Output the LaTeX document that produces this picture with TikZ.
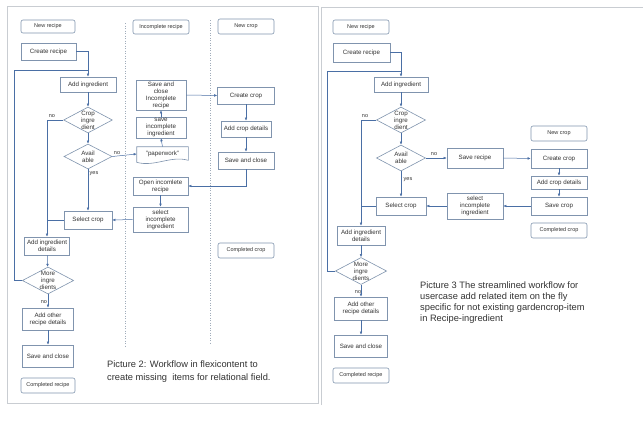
\documentclass[tikz,border=0pt]{standalone}
\usepackage{fontspec}
\setmainfont{Liberation Sans}
\usetikzlibrary{shapes.geometric,arrows.meta,calc}

\definecolor{boxline}{HTML}{8094AE}
\definecolor{flow}{HTML}{4A6FA5}
\definecolor{ink}{HTML}{333333}
\definecolor{frame}{HTML}{C9CDD2}
\definecolor{lane}{HTML}{A0ACBA}

\tikzset{
  box/.style={draw=boxline, fill=white, text=ink, align=center, inner sep=0pt, line width=0.6pt, font=\fontsize{6.2}{7}\selectfont},
  rbox/.style={box, rounded corners=2pt, font=\fontsize{5.5}{6.5}\selectfont},
  dec/.style={box, diamond, aspect=1.9},
  wh/.style 2 args={minimum width=#1, minimum height=#2},
  lin/.style={draw=flow, line width=0.5pt},
  arr/.style={lin, -{Latex[length=3pt,width=2.6pt]}},
  lbl/.style={text=ink, inner sep=0pt, font=\fontsize{5.5}{6.5}\selectfont},
  captext/.style={text=ink, inner sep=0pt, align=left, anchor=north west},
}

\begin{document}
\begin{tikzpicture}[x=1pt,y=-1pt]

\useasboundingbox (0,0) rectangle (643,421);
\fill[white] (0,0) rectangle (643,421);

% frames of the two pictures
\draw[frame, line width=0.8pt] (7,6) rectangle (318,403);
\draw[frame, line width=0.8pt] (321,405) -- (321,7) -- (643,7);

% swimlane separators
\foreach \x/\ya/\yb in {125/23/347, 210/20/343}
  \draw[lane, dotted, line width=0.5pt] (\x,\ya) -- (\x,\yb);

%%% Picture 2

% lane: new recipe
\node[rbox, wh={54}{13}] (newrecL) at (48,26.5) {New recipe};
\node[box, wh={55}{17}] (createL) at (48.5,51.5) {Create recipe};
\node[box, wh={56}{15}] (addL) at (88,84.5) {Add ingredient};
\node[dec, wh={48}{26}] (cropL) at (88,120) {Crop\\ingre\\dient};
\node[dec, wh={48}{25}] (availL) at (88,156.5) {Avail\\able};
\node[box, wh={48}{18}] (selectL) at (88,220) {Select crop};
\node[box, wh={45}{18}] (adddetL) at (47,246) {Add ingredient\\details};
\node[dec, wh={51}{25}] (moreL) at (48,280.5) {More\\ingre\\dients};
\node[box, wh={51}{22}] (otherL) at (48,319) {Add other\\recipe details};
\node[box, wh={51}{22}] (saveL) at (48,356) {Save and close};
\node[rbox, wh={54}{15}] (complL) at (48,385.5) {Completed recipe};

% lane: incomplete recipe
\node[rbox, wh={56}{14}] (increc) at (161,27) {Incomplete recipe};
\node[box, wh={50}{30}] (saveinc) at (161,95) {Save and\\close\\Incomplete\\recipe};
\node[box, wh={50}{21}] (saveing) at (161,127.5) {save\\incomplete\\ingredient};
\node[box, draw=none, fill=none, wh={51}{14}] (paper) at (162.5,154) {"paperwork"};
\draw[boxline, line width=0.6pt] (paper.north west) -- (paper.north east)
  -- ($(paper.south east)+(0,-1)$)
  .. controls ($(paper.south)+(8,-6)$) and ($(paper.south)+(-8,6)$) .. ($(paper.south west)+(0,1)$)
  -- cycle;
\node[box, wh={55}{18}] (openinc) at (160.5,186) {Open incomlete\\recipe};
\node[box, wh={55}{25}] (selinc) at (160.5,219.5) {select\\incomplete\\ingredient};

% lane: new crop
\node[rbox, wh={56}{15}] (newcrop) at (246,26.5) {New crop};
\node[box, wh={57}{17}] (createcrop) at (246,95.5) {Create crop};
\node[box, wh={50}{16}] (addcrop) at (246,129) {Add crop details};
\node[box, wh={56}{17}] (savecrop) at (246,160.5) {Save and close};
\node[rbox, wh={56}{15}] (complcrop) at (246,250.5) {Completed crop};

% labels
\node[lbl] (noL1) at (52,116) {no};
\node[lbl] (noL2) at (117,153) {no};
\node[lbl] (yesL) at (94,174) {yes};
\node[lbl] (noL3) at (44,302) {no};

% connectors
\coordinate (loopL) at (14,70);
\draw[arr] (createL.east) -| (addL.north);
\draw[lin] (moreL.west) -| (loopL) -- (loopL -| addL.north);
\draw[arr] (addL) -- (cropL);
\draw[arr] (cropL) -- (availL);
\draw[arr] (cropL.west) -| (adddetL.north);
\draw[lin] (selectL.west) -- (selectL.west -| adddetL.north);
\draw[arr] (availL.east) -- (paper.west);
\draw[arr] (availL) -- (selectL);
\draw[arr] (selinc.west) -- (selectL.east);
\draw[arr] (adddetL) -- (moreL);
\draw[arr] (moreL) -- (otherL);
\draw[arr] (otherL) -- (saveL);
\draw[arr] (paper.north) -- (saveing.south);
\draw[arr] (saveing) -- (saveinc);
\draw[arr] (saveinc.east) -- (createcrop.west);
\draw[arr] (createcrop) -- (addcrop);
\draw[arr] (addcrop) -- (savecrop);
\draw[arr] (savecrop.south) |- (openinc.east);
\draw[arr] (openinc) -- (selinc);

\node[captext, font=\fontsize{9.3}{12.5}\selectfont] (capL) at (107,361)
  {Picture 2: Workflow in flexicontent to\\create missing\ \ items for relational field.};

%%% Picture 3

\node[rbox, wh={56}{14}] (newrecR) at (361,27) {New recipe};
\node[box, wh={57}{19}] (createR) at (361.5,52.5) {Create recipe};
\node[box, wh={54}{15}] (addR) at (401,84.5) {Add ingredient};
\node[dec, wh={49}{26}] (cropR) at (401,120) {Crop\\ingre\\dient};
\node[dec, wh={49}{26}] (availR) at (401,158) {Avail\\able};
\node[box, wh={56}{20}] (saverec) at (475,158) {Save recipe};
\node[box, wh={50}{18}] (selectR) at (401,206) {Select crop};
\node[box, wh={56}{26}] (selincR) at (475,206) {select\\incomplete\\ingredient};
\node[box, wh={48}{19}] (adddetR) at (361,235.5) {Add ingredient\\details};
\node[dec, wh={51}{22}] (moreR) at (361,271) {More\\ingre\\dients};
\node[box, wh={53}{23}] (otherR) at (361,308.5) {Add other\\recipe details};
\node[box, wh={53}{22}] (saveR) at (361,346) {Save and close};
\node[rbox, wh={56}{15}] (complR) at (361,375.5) {Completed recipe};

\node[rbox, wh={56}{15}] (newcropR) at (559,133.5) {New crop};
\node[box, wh={56}{19}] (createcropR) at (559,158.5) {Create crop};
\node[box, wh={56}{13}] (addcropR) at (559,182.5) {Add crop details};
\node[box, wh={56}{18}] (savecropR) at (559,206) {Save crop};
\node[rbox, wh={56}{15}] (complcropR) at (559,230.5) {Completed crop};

\node[lbl] (noR1) at (365,116) {no};
\node[lbl] (noR2) at (434,154) {no};
\node[lbl] (yesR) at (408,180) {yes};
\node[lbl] (noR3) at (358,292) {no};

\coordinate (loopR) at (327,71);
\draw[arr] (createR.east) -| (addR.north);
\draw[lin] (moreR.west) -| (loopR) -- (loopR -| addR.north);
\draw[arr] (addR) -- (cropR);
\draw[arr] (cropR) -- (availR);
\draw[arr] (cropR.west) -| (adddetR.north);
\draw[lin] (selectR.west) -- (selectR.west -| adddetR.north);
\draw[arr] (availR.east) -- (saverec.west);
\draw[arr] (availR) -- (selectR);
\draw[arr] (selincR.west) -- (selectR.east);
\draw[arr] (adddetR) -- (moreR);
\draw[arr] (moreR) -- (otherR);
\draw[arr] (otherR) -- (saveR);
\draw[arr] (saverec.east) -- (createcropR.west);
\draw[arr] (createcropR) -- (addcropR);
\draw[arr] (addcropR) -- (savecropR);
\draw[arr] (savecropR.west) -- (selincR.east);

\node[captext, font=\fontsize{9.3}{10.9}\selectfont] (capR) at (420,282)
  {Picture 3 The streamlined workflow for\\usercase add related item on the fly\\specific for not existing gardencrop-item\\in Recipe-ingredient};

\end{tikzpicture}
\end{document}
